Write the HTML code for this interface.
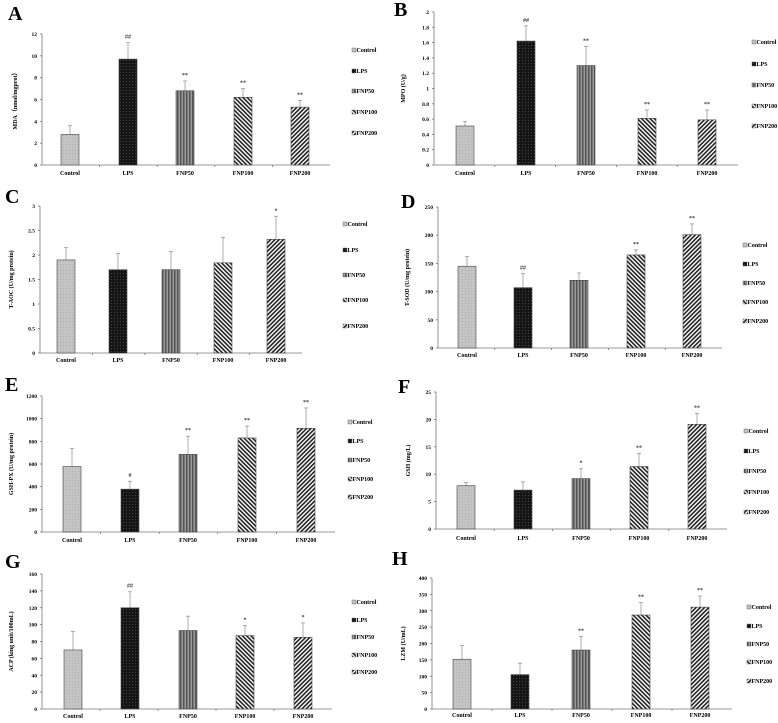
<!DOCTYPE html>
<html><head><meta charset="utf-8"><style>
body{margin:0;background:#fff}
svg{display:block;font-family:"Liberation Serif",serif;font-weight:bold}
</style></head><body>
<svg id="fig" width="778" height="723" viewBox="0 0 778 723" xmlns="http://www.w3.org/2000/svg">
<defs>
<pattern id="pCtrl" width="3" height="3" patternUnits="userSpaceOnUse"><rect width="3" height="3" fill="#c4c4c4"/><rect width="1" height="1" fill="#b0b0b0"/></pattern>
<pattern id="pLPS" width="3" height="3" patternUnits="userSpaceOnUse"><rect width="3" height="3" fill="#151515"/><rect width="1" height="1" fill="#444"/></pattern>
<pattern id="pF50" width="3" height="3" patternUnits="userSpaceOnUse"><rect width="3" height="3" fill="#999"/><rect width="1.5" height="3" fill="#555"/></pattern>
<pattern id="pF100" width="3" height="3" patternUnits="userSpaceOnUse" patternTransform="rotate(-45)"><rect width="3" height="3" fill="#fff"/><rect width="1.6" height="3" fill="#222"/></pattern>
<pattern id="pF200" width="3" height="3" patternUnits="userSpaceOnUse" patternTransform="rotate(45)"><rect width="3" height="3" fill="#fff"/><rect width="1.6" height="3" fill="#222"/></pattern>
</defs>
</svg>
<script>
const categories=["Control","LPS","FNP50","FNP100","FNP200"];
const aValues=[2.8,9.7,6.8,6.2,5.3];
const aErrors=[0.8,1.5,0.9,0.8,0.6];
const aMarks=["","##","**","**","**"];
const aTicks=[0,2,4,6,8,10,12];
const bValues=[0.51,1.62,1.3,0.61,0.59];
const bErrors=[0.06,0.2,0.25,0.11,0.13];
const bMarks=["","##","**","**","**"];
const bTicks=[0,0.2,0.4,0.6,0.8,1,1.2,1.4,1.6,1.8,2];
const cValues=[1.9,1.7,1.7,1.84,2.32];
const cErrors=[0.25,0.33,0.37,0.52,0.47];
const cMarks=["","","","","*"];
const cTicks=[0,0.5,1,1.5,2,2.5,3];
const dValues=[145,107,120,165,201];
const dErrors=[17,25,13,9,19];
const dMarks=["","##","","**","**"];
const dTicks=[0,50,100,150,200,250];
const eValues=[578,378,685,830,915];
const eErrors=[160,70,160,105,180];
const eMarks=["","#","**","**","**"];
const eTicks=[0,200,400,600,800,1000,1200];
const fValues=[7.9,7.1,9.2,11.4,19.1];
const fErrors=[0.6,1.5,1.8,2.4,2];
const fMarks=["","","*","**","**"];
const fTicks=[0,5,10,15,20,25];
const gValues=[70,120,93,87,85];
const gErrors=[22,19,17,12,17];
const gMarks=["","##","","*","*"];
const gTicks=[0,20,40,60,80,100,120,140,160];
const hValues=[152,105,180,287,311];
const hErrors=[42,35,42,38,34];
const hMarks=["","","**","**","**"];
const hTicks=[0,50,100,150,200,250,300,350,400];

const fills=["url(#pCtrl)","url(#pLPS)","url(#pF50)","url(#pF100)","url(#pF200)"];
const NS="http://www.w3.org/2000/svg";
const svg=document.getElementById('fig');
function mk(tag,attrs,parent,txt){const e=document.createElementNS(NS,tag);for(const k in attrs)e.setAttribute(k,attrs[k]);if(txt!==undefined)e.textContent=txt;parent.appendChild(e);return e;}

const panels=[
 {id:'a',letter:'A',lx:8,ly:20,title:'MDA（nmol/mgprot）',tx:17,ax:42,top:34,bot:165,end:330,cx:[70,128,185,243,300],leg:352,legY:[52,73,93,114,135],vals:aValues,errs:aErrors,marks:aMarks,ticks:aTicks,labY:175},
 {id:'b',letter:'B',lx:394,ly:16,title:'MPO (U/g)',tx:405,ax:434,top:12,bot:165,end:738,cx:[465,526,586,647,707],leg:752,legY:[44,66,87,108,128],vals:bValues,errs:bErrors,marks:bMarks,ticks:bTicks,labY:175},
 {id:'c',letter:'C',lx:5,ly:203,title:'T-AOC (U/mg protein)',tx:13,ax:40,top:206,bot:353,end:302,cx:[66,118,171,223,276],leg:343,legY:[226,252,277,302,328],vals:cValues,errs:cErrors,marks:cMarks,ticks:cTicks,labY:362},
 {id:'d',letter:'D',lx:401,ly:208,title:'T-SOD (U/mg protein)',tx:409,ax:438,top:207,bot:348,end:722,cx:[467,523,579,636,692],leg:743,legY:[247,266,285,304,323],vals:dValues,errs:dErrors,marks:dMarks,ticks:dTicks,labY:357},
 {id:'e',letter:'E',lx:5,ly:391,title:'GSH-PX (U/mg protein)',tx:13,ax:42,top:396,bot:532,end:335,cx:[72,130,188,247,306],leg:348,legY:[424,443,462,481,499],vals:eValues,errs:eErrors,marks:eMarks,ticks:eTicks,labY:542},
 {id:'f',letter:'F',lx:398,ly:393,title:'GSH (mg/L)',tx:410,ax:436,top:392,bot:529,end:727,cx:[466,523,581,639,697],leg:744,legY:[433,453,473,494,514],vals:fValues,errs:fErrors,marks:fMarks,ticks:fTicks,labY:540},
 {id:'g',letter:'G',lx:5,ly:568,title:'ACP (king unit/100mL)',tx:13,ax:42,top:574,bot:709,end:332,cx:[73,130,188,245,303],leg:352,legY:[604,622,639,657,674],vals:gValues,errs:gErrors,marks:gMarks,ticks:gTicks,labY:718},
 {id:'h',letter:'H',lx:392,ly:565,title:'LZM (U/mL)',tx:405,ax:432,top:578,bot:709,end:732,cx:[462,520,581,641,700],leg:747,legY:[609,628,646,664,683],vals:hValues,errs:hErrors,marks:hMarks,ticks:hTicks,labY:717}
];

panels.forEach(p=>{
 const g=mk('g',{},svg);
 
 
 const max=p.ticks[p.ticks.length-1];
 const y=v=>p.bot-(v/max)*(p.bot-p.top);
 const L=mk('text',{x:p.lx,y:p.ly,'font-size':20,fill:'#000'},g,p.letter);
 
 
 const T=mk('text',{x:p.tx,y:(p.top+p.bot)/2,'font-size':6,'text-anchor':'middle',transform:`rotate(-90 ${p.tx} ${(p.top+p.bot)/2})`},g,p.title);
 
 
 const ya=mk('line',{x1:p.ax,y1:p.top,x2:p.ax,y2:p.bot,stroke:'#777','stroke-width':0.8},g);
 
 
 const xa=mk('line',{x1:p.ax,y1:p.bot,x2:p.end,y2:p.bot,stroke:'#777','stroke-width':0.8},g);
 
 
 p.ticks.forEach(t=>{
  mk('line',{x1:p.ax-2,y1:y(t),x2:p.ax,y2:y(t),stroke:'#777','stroke-width':0.8},g);
  const tl=mk('text',{x:p.ax-5,y:y(t)+2,'font-size':5.5,'text-anchor':'end'},g,String(t));
  
  
 });
 const step=(p.end-p.ax)/5;
 for(let i=1;i<5;i++)mk('line',{x1:p.ax+i*step,y1:p.bot,x2:p.ax+i*step,y2:p.bot+2,stroke:'#777','stroke-width':0.8},g);
 categories.forEach((c,i)=>{
  const v=p.vals[i],e=p.errs[i],x=p.cx[i],w=18;
  const er=mk('line',{x1:x,y1:y(v),x2:x,y2:y(v+e),stroke:'#999','stroke-width':0.8},g);
  
  
  mk('line',{x1:x-2,y1:y(v+e),x2:x+2,y2:y(v+e),stroke:'#999','stroke-width':0.8},g);
  const b=mk('rect',{x:x-w/2,y:y(v),width:w,height:p.bot-y(v),fill:fills[i],stroke:'#444','stroke-width':0.6},g);
  
  
  if(p.marks[i]){
   const m=mk('text',{x:x,y:y(v+e)-4,'font-size':6,'text-anchor':'middle',fill:'#333'},g,p.marks[i]);
   
   
  }
  const xl=mk('text',{x:x,y:p.labY,'font-size':6,'text-anchor':'middle'},g,c);
  
  
  const le=mk('g',{},g);
  
  
  mk('rect',{x:p.leg,y:p.legY[i]-4,width:4,height:4,fill:fills[i],stroke:'#555','stroke-width':0.4},le);
  mk('text',{x:p.leg+4.5,y:p.legY[i],'font-size':6},le,c);
 });
});
</script>
</body></html>
